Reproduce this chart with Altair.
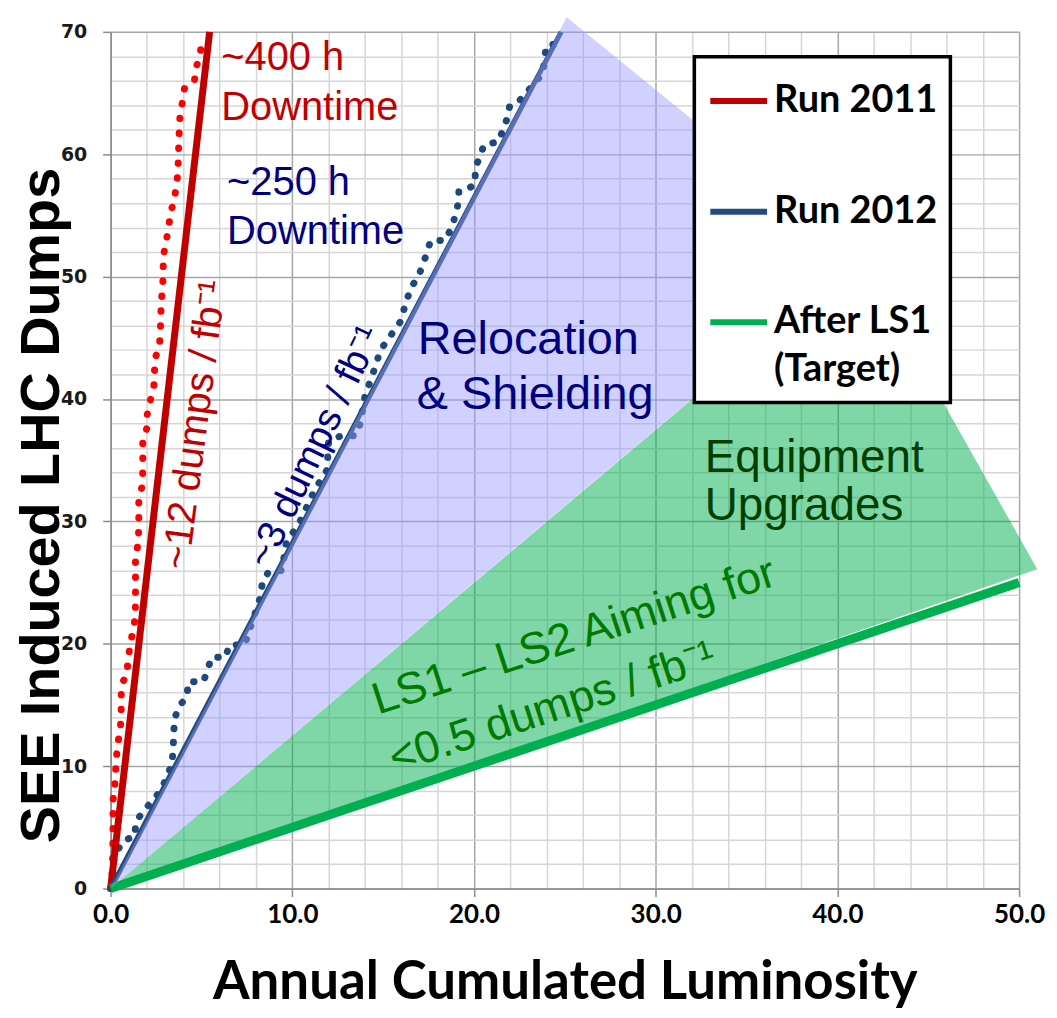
import altair as alt
import pandas as pd

# ---------------- data ----------------
# Run 2011 cumulated SEE dumps (dotted red)
run2011_lumi = [0.0, 0.10, 0.13, 0.13, 0.22, 0.27, 0.31, 0.40, 0.53, 0.58, 0.58, 0.60, 0.91, 0.95,
                1.08, 1.22, 1.35, 1.37, 1.37, 1.37, 1.37, 1.50, 1.55, 1.55, 1.55, 1.72, 1.77, 1.77,
                1.77, 1.99, 2.01, 2.19, 2.38, 2.41, 2.47, 2.69, 2.74, 2.76, 2.80, 2.87, 2.91, 3.05,
                3.20, 3.27, 3.47, 3.60, 3.69, 3.73, 3.75, 3.78, 3.82, 3.97, 4.08, 4.61, 4.73, 4.92, 5.03]
run2011_dumps = [0.0, 1.5, 4.0, 7.2, 8.1, 9.4, 10.6, 11.9, 13.0, 14.2, 15.4, 16.7, 17.5, 18.7,
                 19.9, 21.0, 22.1, 23.3, 24.6, 25.8, 27.0, 28.1, 29.4, 30.6, 31.8, 32.8, 34.0, 35.3,
                 36.6, 37.6, 38.7, 39.9, 41.0, 42.2, 43.4, 44.4, 45.5, 46.8, 48.1, 49.3, 51.7, 52.9,
                 53.9, 55.1, 56.1, 57.2, 58.3, 59.6, 60.8, 62.0, 63.2, 64.4, 65.5, 66.0, 67.2, 68.1, 69.4]

# Run 2012 cumulated SEE dumps (dotted blue)
run2012_lumi = [0.0, 0.16, 0.16, 0.37, 0.71, 1.35, 1.37, 1.74, 2.14, 2.54, 2.87, 3.14, 3.38, 3.45,
                3.47, 3.55, 3.78, 4.20, 4.28, 5.10, 5.33, 5.55, 6.34, 6.52, 7.38, 8.26, 8.35, 8.66,
                9.43, 9.67, 10.36, 11.24, 11.91, 12.00, 12.70, 13.47, 13.74, 14.02, 14.38, 14.65,
                14.90, 15.94, 16.30, 16.57, 16.94, 17.16, 17.40, 17.61, 18.40, 18.77, 18.95, 19.13,
                19.17, 19.41, 20.05, 20.08, 20.32, 20.56, 21.33, 21.60, 21.84, 21.97, 22.52, 23.79,
                23.98, 24.71]
run2012_dumps = [0.0, 1.0, 2.2, 3.1, 3.9, 4.3, 5.4, 6.2, 6.9, 7.6, 8.4, 9.2, 10.3, 11.5,
                 12.8, 14.0, 14.9, 15.7, 16.9, 16.9, 17.8, 18.9, 18.9, 19.9, 19.9, 23.9, 25.0, 25.8,
                 26.0, 28.3, 29.8, 32.6, 34.2, 36.6, 37.0, 37.0, 38.0, 40.4, 41.8, 43.1,
                 44.1, 46.3, 48.1, 49.2, 50.0, 50.9, 51.9, 52.95, 52.95, 54.0, 54.9, 56.0,
                 57.0, 57.0, 57.5, 58.9, 59.8, 60.8, 61.0, 62.0, 63.0, 64.0, 64.4, 66.6,
                 68.9, 69.05]

# Fitted / target trend lines
trend_series = ["Run 2011", "Run 2012", "After LS1"]
trend_colors = ["#C00000", "#234B7C", "#00B050"]
trend_end_lumi = [5.45, 24.8, 50.0]
trend_end_dumps = [70.0, 70.0, 25.0]

# Shaded improvement regions
relocation_x = [0.0, 25.1, 41.3]
relocation_top = [0.0, 71.2, 51.6]
relocation_bottom = [0.0, 31.4, 51.6]
upgrade_x = [0.0, 41.3, 51.0]
upgrade_top = [0.0, 51.6, 26.1]
upgrade_bottom = [0.0, 21.1, 26.1]

# Annotations
red_labels = ["~400 h", "Downtime"]
red_label_x = [6.09, 6.09]
red_label_y = [66.9, 62.8]
navy_labels = ["~250 h", "Downtime", "Relocation", "& Shielding"]
navy_label_x = [6.41, 6.41, 16.9, 16.85]
navy_label_y = [56.7, 52.7, 43.7, 39.2]
equip_labels = ["Equipment", "Upgrades"]
equip_label_x = [32.7, 32.7]
equip_label_y = [34.0, 30.1]
slope2011_label = ["~12 dumps / fb⁻¹"]
slope2011_x = [4.66]
slope2011_y = [37.9]
slope2012_label = ["~3 dumps / fb⁻¹"]
slope2012_x = [11.24]
slope2012_y = [36.1]
target_labels = ["LS1 – LS2 Aiming for", "<0.5 dumps / fb⁻¹"]
target_x = [25.5, 24.3]
target_y = [20.6, 14.8]

x_ticks = list(range(0, 51, 2))
y_ticks = list(range(0, 71, 2))

# ---------------- tables ----------------
df2011 = pd.DataFrame({"x": run2011_lumi, "y": run2011_dumps, "o": range(len(run2011_lumi))})
df2012 = pd.DataFrame({"x": run2012_lumi, "y": run2012_dumps, "o": range(len(run2012_lumi))})
rows = []
for s, xe, ye in zip(trend_series, trend_end_lumi, trend_end_dumps):
    rows.append({"series": s, "x": 0.0, "y": 0.0})
    rows.append({"series": s, "x": xe, "y": ye})
dftrend = pd.DataFrame(rows)
dfreloc = pd.DataFrame({"x": relocation_x, "y": relocation_top, "y2": relocation_bottom})
dfupg = pd.DataFrame({"x": upgrade_x, "y": upgrade_top, "y2": upgrade_bottom})

CAL = "Lato"
ARIAL = "Liberation Sans"

major = "datum.value % 10 === 0"
x_axis = alt.Axis(
    values=x_ticks,
    labelExpr=f"{major} ? format(datum.value, '.1f') : ''",
    title="Annual Cumulated Luminosity",
    grid=True,
    gridColor={"condition": {"test": major, "value": "#A6A6A6"}, "value": "#D6D6D6"},
    gridWidth=1.5,
    tickOpacity={"condition": {"test": major, "value": 1}, "value": 0},
    tickSize=8, tickColor="#8C8C8C", tickWidth=1.5,
    domainColor="#8C8C8C", domainWidth=1.5,
    labelFont=CAL, labelFontSize=26, labelFontWeight="bold", labelColor="black",
    labelPadding=5, labelOverlap=False, labelFlush=False,
    titleFont=CAL, titleFontSize=53, titleFontWeight="bold", titleColor="black",
    titleY=110, titleBaseline="alphabetic",
)
y_axis = alt.Axis(
    values=y_ticks,
    labelExpr=f"{major} ? datum.label : ''",
    title="SEE Induced LHC Dumps",
    grid=True,
    gridColor={"condition": {"test": major, "value": "#A6A6A6"}, "value": "#D6D6D6"},
    gridWidth=1.5,
    tickOpacity={"condition": {"test": major, "value": 1}, "value": 0},
    tickSize=8, tickColor="#8C8C8C", tickWidth=1.5,
    domainColor="#8C8C8C", domainWidth=1.5,
    labelFont="DejaVu Sans", labelFontSize=19, labelFontWeight="bold", labelColor="#1A1A1A",
    labelPadding=16, labelOverlap=False, labelFlush=False,
    titleFont=ARIAL, titleFontSize=56, titleFontWeight="bold", titleColor="black",
    titleAngle=270, titleX=-52, titleY=475, titleAlign="center", titleBaseline="alphabetic",
)
xs = alt.Scale(domain=[0, 50], nice=False, zero=False)
ys = alt.Scale(domain=[0, 70], nice=False, zero=False)
X = alt.X("x:Q", scale=xs, axis=x_axis)
Y = alt.Y("y:Q", scale=ys, axis=y_axis)

dots2011 = alt.Chart(df2011).mark_line(
    color="#FF0000", strokeWidth=7, strokeDash=[0.5, 14.5], strokeCap="round"
).encode(x=X, y=Y, order="o:Q")
dots2012 = alt.Chart(df2012).mark_line(
    color="#1F497D", strokeWidth=7, strokeDash=[0.5, 13.5], strokeCap="round"
).encode(x=X, y=Y, order="o:Q")

trend = alt.Chart(dftrend).mark_line(strokeCap="butt").encode(
    x=X, y=Y,
    color=alt.Color(
        "series:N",
        scale=alt.Scale(domain=trend_series, range=trend_colors),
        legend=alt.Legend(
            orient="none", legendX=586, legendY=25, title=None,
            symbolType="stroke", symbolSize=3249, symbolStrokeWidth=6,
            labelFont=CAL, labelFontSize=38, labelFontWeight="bold", labelColor="black",
            labelOffset=4, labelLimit=400, rowPadding=60, padding=13,
            strokeColor="black", fillColor="white",
            labelExpr="datum.label == 'After LS1' ? ['After LS1', '(Target)'] : datum.label",
        ),
    ),
    strokeWidth={"condition": [{"test": "datum.series == 'After LS1'", "value": 9},
                               {"test": "datum.series == 'Run 2011'", "value": 7}],
                 "value": 5},
)

reloc = alt.Chart(dfreloc).mark_area(color="#9999FF", opacity=0.45, clip=False).encode(
    x=X, y=Y, y2="y2:Q")
upg = alt.Chart(dfupg).mark_area(color="#00B050", opacity=0.5, clip=False).encode(
    x=X, y=Y, y2="y2:Q")


def texts(labels, xv, yv, color, size, angle=0, align="left", baseline="alphabetic"):
    d = pd.DataFrame({"x": xv, "y": yv, "t": labels})
    return alt.Chart(d).mark_text(
        font=ARIAL, fontSize=size, color=color, angle=angle, align=align, baseline=baseline
    ).encode(x=X, y=Y, text="t:N")


t_red = texts(red_labels, red_label_x, red_label_y, "#C00000", 40)
t_navy1 = texts(navy_labels[:2], navy_label_x[:2], navy_label_y[:2], "#00007F", 40)
t_navy2 = texts(navy_labels[2:], navy_label_x[2:], navy_label_y[2:], "#00007F", 47)
t_equip = texts(equip_labels, equip_label_x, equip_label_y, "#003F00", 46)
t_s2011 = texts(slope2011_label, slope2011_x, slope2011_y, "#C00000", 40, angle=277.5,
                align="center", baseline="middle")
t_s2012 = texts(slope2012_label, slope2012_x, slope2012_y, "#00007F", 39, angle=295.6,
                align="center", baseline="middle")
t_target = texts(target_labels, target_x, target_y, "#007A00", 45, angle=342,
                 align="center", baseline="middle")

chart = alt.layer(
    dots2011, dots2012, trend, reloc, upg,
    t_red, t_navy1, t_navy2, t_equip, t_s2011, t_s2012, t_target,
).properties(
    width=912, height=860, background="white",
    autosize=alt.AutoSizeParams(type="none"),
    padding={"left": 103, "top": 22, "right": 30, "bottom": 128},
).configure(
    style={"guide-label": {"lineHeight": 48}}
).configure_view(strokeWidth=0).configure_legend(strokeWidth=3.5)

chart.save("out.html", embed_options={"renderer": "svg", "actions": False})
